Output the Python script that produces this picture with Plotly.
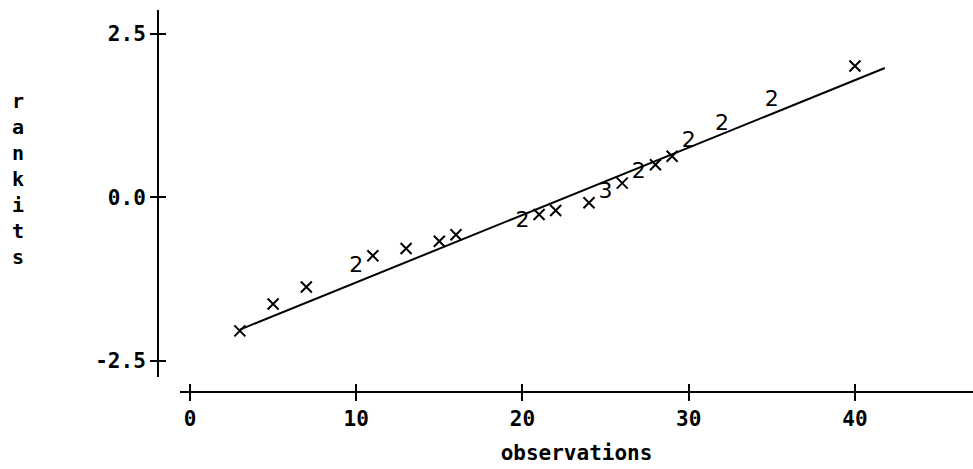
import plotly.graph_objects as go

# Observations (x), rankits (y), and plot character (count of coincident points)
obs_x = [3, 5, 7, 10, 11, 13, 15, 16, 20, 21, 22, 24, 25, 26, 27, 28, 29, 30, 32, 35, 40]
rankits = [-2.04, -1.63, -1.37, -1.05, -0.89, -0.78, -0.67, -0.57, -0.37, -0.26, -0.20,
           -0.08, 0.07, 0.22, 0.38, 0.50, 0.63, 0.85, 1.12, 1.49, 2.01]
counts = [1, 1, 1, 2, 1, 1, 1, 1, 2, 1, 1, 1, 3, 1, 2, 1, 1, 2, 2, 2, 1]

# fitted line end points
fit_x = [3, 41.8]
fit_y = [-2.02, 1.98]

x_ticks = [0, 10, 20, 30, 40]
y_ticks = [-2.5, 0.0, 2.5]
y_ticktext = ["-2.5", "0.0", "2.5"]

W, H = 973, 469
ML, MR, MT, MB = 100, 0, 10, 40
PW = W - ML - MR
PH = H - MT - MB

def px_x(p):
    return (p - ML) / PW

def px_y(p):
    return (H - MB - p) / PH

xdom = [px_x(180), 1.0]
ydom = [px_y(377), 1.0]
x_pos = px_y(392)
y_pos = px_x(158)

xr = [-0.6, 47.1]
yr = [-2.745, 2.867]

tick_font = dict(family="DejaVu Sans Mono", size=21, color="black", weight="bold")
ytitle_font = dict(family="DejaVu Sans Mono", size=20, color="black", weight="bold")

single_x = [x for x, c in zip(obs_x, counts) if c == 1]
single_y = [y for y, c in zip(rankits, counts) if c == 1]
multi_x = [x for x, c in zip(obs_x, counts) if c > 1]
multi_y = [y for y, c in zip(rankits, counts) if c > 1]
multi_t = [str(c) for c in counts if c > 1]

fig = go.Figure()
fig.add_trace(go.Scatter(x=fit_x, y=fit_y, mode="lines",
                         line=dict(color="black", width=2), showlegend=False, hoverinfo="skip"))
fig.add_trace(go.Scatter(x=single_x, y=single_y, mode="markers",
                         marker=dict(symbol="x-thin", size=11, line=dict(color="black", width=2)),
                         showlegend=False))
fig.add_trace(go.Scatter(x=multi_x, y=multi_y, mode="text", text=multi_t,
                         textfont=dict(family="DejaVu Sans", size=22, color="black"),
                         textposition="middle center", showlegend=False))
# invisible trace to anchor the mirrored tick axes
fig.add_trace(go.Scatter(x=[xr[0]], y=[yr[0]], xaxis="x2", yaxis="y2", mode="markers",
                         marker=dict(opacity=0), showlegend=False, hoverinfo="skip"))

fig.update_layout(
    width=W, height=H,
    margin=dict(l=ML, r=MR, t=MT, b=MB),
    paper_bgcolor="white", plot_bgcolor="white",
    xaxis=dict(domain=xdom, range=xr, anchor="free", position=x_pos,
               showline=True, linecolor="black", linewidth=2,
               ticks="outside", ticklen=8, tickwidth=2, tickcolor="black",
               tickvals=x_ticks, tickfont=tick_font, showgrid=False, zeroline=False,
               title=dict(text="observations", font=tick_font, standoff=14)),
    yaxis=dict(domain=ydom, range=yr, anchor="free", position=y_pos,
               showline=True, linecolor="black", linewidth=2,
               ticks="outside", ticklen=7, tickwidth=2, tickcolor="black",
               tickvals=y_ticks, ticktext=y_ticktext, tickfont=tick_font,
               showgrid=False, zeroline=False),
    xaxis2=dict(domain=xdom, range=xr, overlaying="x", anchor="free", position=x_pos,
                showline=False, ticks="inside", ticklen=8, tickwidth=2, tickcolor="black",
                tickvals=x_ticks, showticklabels=False, showgrid=False, zeroline=False),
    yaxis2=dict(domain=ydom, range=yr, overlaying="y", anchor="free", position=y_pos,
                showline=False, ticks="inside", ticklen=7, tickwidth=2, tickcolor="black",
                tickvals=y_ticks, showticklabels=False, showgrid=False, zeroline=False),
    annotations=[dict(text="r<br>a<br>n<br>k<br>i<br>t<br>s", xref="paper", yref="paper",
                      x=px_x(18), y=px_y(179), xanchor="center", yanchor="middle",
                      showarrow=False, font=ytitle_font)],
)

fig.write_html("out.html", config={"displayModeBar": False},
               post_script="document.body.style.margin='0px';")
